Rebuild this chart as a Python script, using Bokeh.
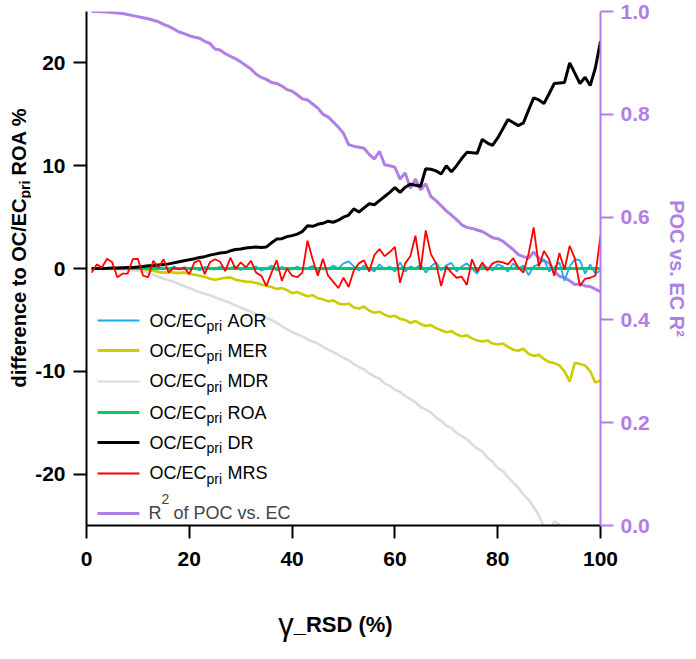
import math
from bokeh.plotting import figure
from bokeh.layouts import row, column
from bokeh.models import Range1d, LinearAxis, FixedTicker, PrintfTickFormatter, Label, Arrow
from bokeh.core.properties import value
from bokeh.embed import file_html
from bokeh.resources import INLINE

# ---------------- data ----------------
gamma_rsd = list(range(1, 101))

aor = [0, 0, 0.05, 0, -0.05, 0, 0, 0.05, 0, 0,
       -0.1, 0.05, 0, -0.1, 0.1, -0.05, 0.2, -0.1, 0.1, 0.0,
       0.1, -0.2, 0.15, 0.0, -0.1, 0.2, -0.1, 0.05, 0.2, -0.15,
       0.1, 0.0, 0.2, -0.2, 0.0, 0.3, -0.2, 0.15, 0.0, -0.1,
       0.2, -0.1, 0.05, 0.25, -0.3, 0.1, -0.1, 0.3, 0.0, 0.5,
       0.7, 0.2, -0.2, 0.3, 0.0, -0.3, 0.4, -0.1, 0.2, -0.3,
       0.6, -0.3, 0.2, 0.0, 0.4, -0.4, 0.2, 0.6, -0.2, 0.3,
       0.55, -0.3, 0.2, 0.5, 0.0, -0.5, 0.3, 0.1, -0.2, 0.4,
       0.2, -0.3, 0.5, 0.0, 0.3, -0.65, 0.2, 0.4, 0.9, -0.3,
       0.1, 0.6, -1.2, 0.2, 0.9, 0.8, -0.5, 0.4, -0.5, -0.2]

mer = [0, 0, 0, 0, 0, 0, 0, 0, -0.05, -0.1,
       -0.15, -0.2, -0.25, -0.35, -0.4, -0.35, -0.4, -0.45, -0.38, -0.5,
       -0.6, -0.7, -0.8, -1.0, -1.09, -1.0, -0.9, -0.86, -1.1, -1.2,
       -1.28, -1.3, -1.4, -1.55, -1.67, -1.8, -2.0, -1.9, -2.1, -2.4,
       -2.3, -2.5, -2.7, -2.6, -2.9, -3.0, -3.2, -3.1, -3.4, -3.5,
       -3.4, -3.8, -3.9, -3.7, -4.1, -4.3, -4.2, -4.5, -4.7, -4.6,
       -4.9, -5.0, -5.3, -5.1, -5.4, -5.6, -5.5, -5.8, -6.0, -6.2,
       -6.1, -6.4, -6.6, -6.5, -6.8, -7.0, -7.1, -7.0, -7.3, -7.4,
       -7.3, -7.6, -7.9, -8.0, -7.8, -8.3, -8.5, -8.4, -8.8, -9.1,
       -9.2, -9.43, -10.0, -11.0, -9.17, -9.3, -9.43, -10.0, -11.1, -10.9]

mdr = [0, 0, 0, -0.02, -0.05, -0.08, -0.1, -0.15, -0.2, -0.25,
       -0.3, -0.4, -0.6, -0.8, -1.0, -1.15, -1.3, -1.5, -1.7, -1.9,
       -2.1, -2.3, -2.45, -2.6, -2.8, -3.0, -3.15, -3.35, -3.6, -3.8,
       -4.0, -4.2, -4.4, -4.6, -4.8, -5.0, -5.3, -5.6, -5.9, -6.2,
       -6.4, -6.6, -6.9, -7.1, -7.3, -7.6, -7.9, -8.1, -8.4, -8.7,
       -8.9, -9.3, -9.6, -9.8, -10.2, -10.5, -10.7, -11.2, -11.4, -11.8,
       -12.0, -12.4, -12.7, -13.0, -13.5, -13.7, -14.0, -14.5, -14.8, -15.3,
       -15.5, -16.0, -16.3, -16.6, -17.1, -17.5, -17.8, -18.4, -18.8, -19.4,
       -19.7, -20.3, -20.8, -21.3, -22.0, -22.5, -23.2, -24.0, -25.1, -25.6,
       -24.6, -24.9, -26.0, -26.5, -26.8, -27.4, -27.9, -28.3, -28.8, -29.5]

roa = [0, 0, 0, 0, 0, 0, 0, 0, 0, 0,
       0, 0, 0, 0, 0, 0, 0, 0, 0, 0,
       0, 0, 0, 0, 0, 0, 0, 0, 0, 0,
       0, 0, 0, 0, 0, 0, 0, 0, 0, 0,
       0, 0, 0, 0, 0, 0, 0, 0, 0, 0,
       0, 0, 0, 0, 0, 0, 0, 0, 0, 0,
       0, 0, 0, 0, 0, 0, 0, 0, 0, 0,
       0, 0, 0, 0, 0, 0, 0, 0, 0, 0,
       0, 0, 0, 0, 0, 0, 0, 0, 0, 0,
       0, 0, 0, 0, 0, 0, 0, 0, 0, 0]

dr = [0, 0, 0, 0.02, 0.05, 0.05, 0.08, 0.1, 0.1, 0.15,
      0.2, 0.27, 0.3, 0.35, 0.4, 0.45, 0.55, 0.65, 0.76, 0.85,
      0.95, 1.08, 1.15, 1.3, 1.4, 1.5, 1.55, 1.72, 1.85, 1.9,
      2.0, 2.05, 2.1, 2.05, 2.1, 2.5, 2.86, 2.9, 3.1, 3.2,
      3.35, 3.6, 4.15, 4.1, 4.3, 4.4, 4.6, 4.5, 4.7, 5.0,
      5.2, 5.8, 5.5, 5.9, 6.3, 6.2, 6.6, 7.0, 7.4, 7.87,
      7.4, 7.9, 8.2, 8.1, 8.0, 9.7, 9.65, 9.5, 9.2, 10.0,
      9.4, 10.0, 10.7, 11.3, 11.25, 11.2, 12.56, 12.2, 11.98, 12.7,
      13.6, 14.5, 14.2, 13.9, 14.17, 15.4, 16.6, 16.4, 16.05, 17.0,
      18.0, 18.05, 18.1, 20.0, 19.0, 18.0, 18.6, 17.8, 19.5, 22.1]

mrs = [-0.4, 0.4, 0.1, 0.95, 0.6, -0.85, -0.5, -0.5, 0.9, 0.95,
       -0.7, -0.85, 0.75, 0.1, 0.9, -0.4, 0.1, -0.1, 0.1, -0.55,
       0.6, 0.8, -0.55, 0.6, 0.9, 0.65, -0.25, 1.05, -0.05, 0.6,
       0.1, 0.75, -0.4, -0.7, -1.7, -0.4, 0.8, -1.2, 0.0, -0.7,
       -0.85, -0.4, 2.7, 0.9, -0.7, 0.95, -0.7, -1.3, -1.9, -0.9,
       -1.8, -0.2, 0.5, 0.8, -0.3, 1.3, 1.9, 1.2, 1.6, 2.1,
       -1.4, 0.5, 1.2, 3.2, -0.1, 3.7, 1.4, 0.5, -1.7, 0.2,
       -0.4, -0.9, -0.8, -1.6, 0.9, -0.3, 0.6, -0.2, 0.5, 0.7,
       0.6, 0.4, 1.0, 0.1, -0.4, 1.4, 4.0, 0.2, 1.7, 0.9,
       -0.7, 1.5, -0.1, 2.2, 1.0, -1.7, -1.0, -0.9, -0.7, 3.2]

r2_poc_ec = [1.0, 0.9998, 0.9995, 0.999, 0.998, 0.997, 0.996, 0.994, 0.992, 0.99,
             0.988, 0.986, 0.983, 0.98, 0.975, 0.971, 0.966, 0.96, 0.957, 0.953,
             0.95, 0.948, 0.942, 0.938, 0.927, 0.925, 0.918, 0.913, 0.908, 0.902,
             0.895, 0.888, 0.878, 0.872, 0.868, 0.862, 0.86, 0.855, 0.848, 0.845,
             0.838, 0.83, 0.828, 0.82, 0.812, 0.80, 0.795, 0.785, 0.775, 0.763,
             0.741, 0.738, 0.736, 0.734, 0.722, 0.713, 0.728, 0.702, 0.70, 0.697,
             0.674, 0.686, 0.656, 0.674, 0.653, 0.665, 0.640, 0.632, 0.622, 0.612,
             0.604, 0.595, 0.585, 0.58, 0.578, 0.575, 0.572, 0.566, 0.56, 0.558,
             0.553, 0.545, 0.537, 0.527, 0.523, 0.520, 0.532, 0.52, 0.515, 0.511,
             0.495, 0.485, 0.482, 0.476, 0.469, 0.47, 0.466, 0.465, 0.46, 0.455]

x_ticks = [0, 20, 40, 60, 80, 100]
left_ticks = [-20, -10, 0, 10, 20]
right_ticks = [0.0, 0.2, 0.4, 0.6, 0.8, 1.0]

legend_names = ["AOR", "MER", "MDR", "ROA", "DR", "MRS"]

# ---------------- styles ----------------
FONT = "Liberation Sans"
C_AOR = "#1AABF0"
C_MER = "#CCCC00"
C_MDR = "#DCDCDC"
C_ROA = "#00CC66"
C_DR = "#000000"
C_MRS = "#FF0000"
C_R2 = "#B07EE6"

TOP, FRAME, BOTTOM = 11, 514, 56
LEFT_TITLE_W, LEFT_AXIS_W, RIGHT_W = 31, 55, 84
BT_H = 62

p = figure(frame_width=FRAME, frame_height=FRAME,
           x_range=Range1d(0, 100), y_range=Range1d(-25, 25),
           output_backend="svg", toolbar_location=None,
           min_border_left=LEFT_AXIS_W, min_border_right=RIGHT_W,
           min_border_top=TOP, min_border_bottom=BOTTOM)
p.outline_line_color = None
p.xgrid.visible = False
p.ygrid.visible = False
p.extra_y_ranges = {"r2": Range1d(0, 1)}


def style_axis(ax, color):
    ax.axis_line_color = color
    ax.axis_line_width = 2
    ax.major_tick_line_color = color
    ax.major_tick_line_width = 2
    ax.major_tick_out = 13
    ax.major_tick_in = 0
    ax.minor_tick_line_color = None
    ax.major_label_text_color = color
    ax.major_label_text_font = FONT
    ax.major_label_text_font_style = "bold"
    ax.major_label_text_font_size = "21px"
    ax.major_label_standoff = 8


xa = p.xaxis[0]
style_axis(xa, "black")
xa.ticker = FixedTicker(ticks=x_ticks)
xa.formatter = PrintfTickFormatter(format="%d")
xa.major_label_standoff = 13

ya = p.yaxis[0]
style_axis(ya, "black")
ya.ticker = FixedTicker(ticks=left_ticks)
ya.formatter = PrintfTickFormatter(format="%d")

ra = LinearAxis(y_range_name="r2")
style_axis(ra, C_R2)
ra.ticker = FixedTicker(ticks=right_ticks)
ra.formatter = PrintfTickFormatter(format="%.1f")
ra.major_label_standoff = 7
ra.axis_label = "POC vs. EC R²"
ra.axis_label_text_color = C_R2
ra.axis_label_text_font = FONT
ra.axis_label_text_font_style = "bold"
ra.axis_label_text_font_size = "20px"
ra.axis_label_standoff = 13
p.add_layout(ra, "right")

# ---------------- series ----------------
p.line(gamma_rsd, r2_poc_ec, y_range_name="r2", line_color=C_R2, line_width=3)
p.line(gamma_rsd, aor, line_color=C_AOR, line_width=1.8)
p.line(gamma_rsd, mer, line_color=C_MER, line_width=2.6)
p.line(gamma_rsd, mdr, line_color=C_MDR, line_width=2.6)
p.line(gamma_rsd, roa, line_color=C_ROA, line_width=3)
p.line(gamma_rsd, dr, line_color=C_DR, line_width=3)
p.line(gamma_rsd, mrs, line_color=C_MRS, line_width=1.8)

# ---------------- manual legend (inside the frame) ----------------
row_y = [-5.06, -7.98, -10.99, -14.01, -16.93, -19.94]
row_colors = [C_AOR, C_MER, C_MDR, C_ROA, C_DR, C_MRS]
row_widths = [2, 3, 2, 3, 3, 2]
sw_x0, sw_x1 = 2.14, 10.3
anchor_x = 23.35
for name, ry, col, lw in zip(legend_names, row_y, row_colors, row_widths):
    p.add_layout(Arrow(end=None, x_start=sw_x0, y_start=ry, x_end=sw_x1, y_end=ry,
                       line_color=col, line_width=lw))
    p.add_layout(Label(x=anchor_x, y=ry, text="OC/EC", text_align="right",
                       text_baseline="middle", text_font=FONT, text_font_size="18px",
                       text_color="black"))
    p.add_layout(Label(x=anchor_x, y=ry, x_offset=0, y_offset=-5.5, text="pri",
                       text_align="left", text_baseline="middle", text_font=FONT,
                       text_font_size="14px", text_color="black"))
    p.add_layout(Label(x=anchor_x, y=ry, x_offset=21, text=name,
                       text_align="left", text_baseline="middle", text_font=FONT,
                       text_font_size="18px", text_color="black"))

r2_row = -23.83
p.add_layout(Arrow(end=None, x_start=sw_x0, y_start=r2_row, x_end=sw_x1, y_end=r2_row,
                   line_color=C_R2, line_width=3))
r_anchor = 14.6
p.add_layout(Label(x=r_anchor, y=r2_row, text="R", text_align="right",
                   text_baseline="middle", text_font=FONT, text_font_size="18px"))
p.add_layout(Label(x=r_anchor, y=r2_row, y_offset=14, text="2", text_align="left",
                   text_baseline="middle", text_font=FONT, text_font_size="14px"))
p.add_layout(Label(x=r_anchor, y=r2_row, x_offset=12, text="of POC vs. EC", text_align="left",
                   text_baseline="middle", text_font=FONT, text_font_size="18px"))

# ---------------- left title panel (pixel coordinates of the panel) ----------------
lt = figure(frame_width=LEFT_TITLE_W, frame_height=FRAME,
            x_range=Range1d(0, LEFT_TITLE_W), y_range=Range1d(0, FRAME),
            output_backend="svg", toolbar_location=None,
            x_axis_location=None, y_axis_location=None,
            min_border_left=0, min_border_right=0,
            min_border_top=TOP, min_border_bottom=BOTTOM)
lt.outline_line_color = None
lt.xgrid.visible = False
lt.ygrid.visible = False
title_cx, title_cy = 18, 327
lt.text(x=[title_cx], y=[title_cy], text=["difference to OC/EC"], angle=math.pi / 2,
        text_align="right", text_baseline="middle", text_font=value(FONT),
        text_font_size="20px", text_font_style="bold", text_color="black")
lt.text(x=[title_cx + 6], y=[title_cy], text=["pri"], angle=math.pi / 2,
        text_align="left", text_baseline="middle", text_font=value(FONT),
        text_font_size="14px", text_font_style="bold", text_color="black")
lt.text(x=[title_cx], y=[title_cy + 23], text=["ROA %"], angle=math.pi / 2,
        text_align="left", text_baseline="middle", text_font=value(FONT),
        text_font_size="20px", text_font_style="bold", text_color="black")

# ---------------- bottom title panel ----------------
bt = figure(frame_width=FRAME, frame_height=BT_H,
            x_range=p.x_range, y_range=Range1d(0, BT_H),
            output_backend="svg", toolbar_location=None,
            x_axis_location=None, y_axis_location=None,
            min_border_left=LEFT_TITLE_W + LEFT_AXIS_W, min_border_right=0,
            min_border_top=0, min_border_bottom=0)
bt.outline_line_color = None
bt.xgrid.visible = False
bt.ygrid.visible = False
gx, gy = 40.3, 19
bt.text(x=[gx], y=[gy], text=["γ"], text_align="right", text_baseline="alphabetic",
        text_font=value(FONT), text_font_size="31px", text_color="black")
bt.text(x=[gx], y=[gy], text=["_RSD (%)"], text_align="left", text_baseline="alphabetic",
        text_font=value(FONT), text_font_size="22px", text_font_style="bold",
        text_color="black")

layout = column(row(lt, p, spacing=0), bt, spacing=0)

open("out.html", "w").write(file_html(layout, INLINE))
